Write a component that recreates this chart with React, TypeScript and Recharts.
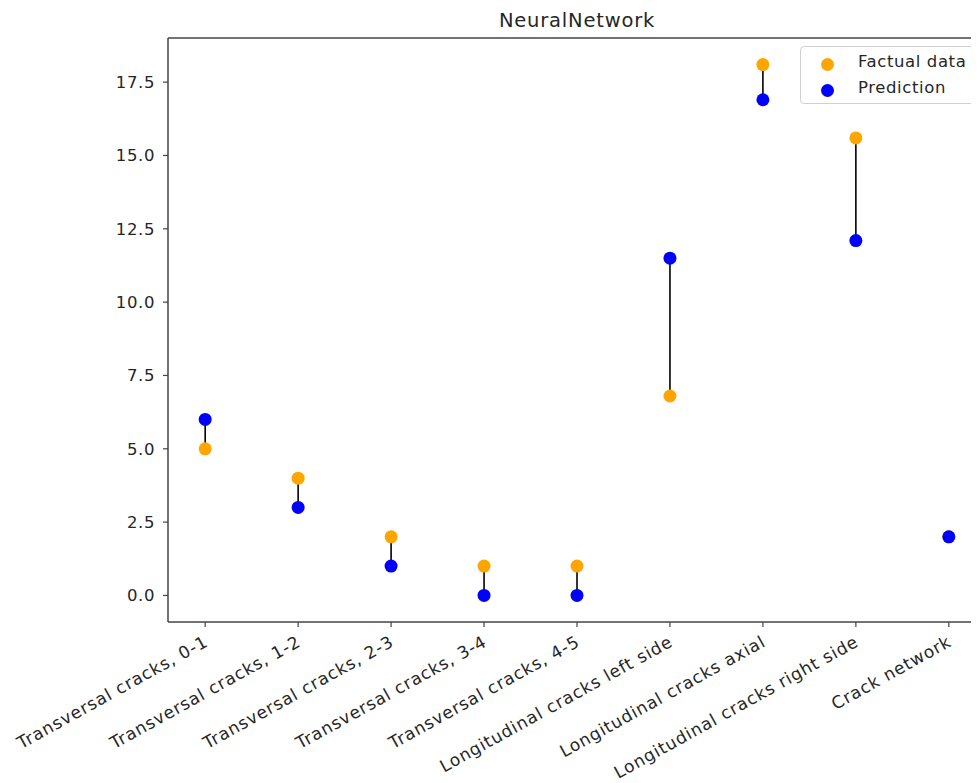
import React from "react";
import { ScatterChart, Scatter, XAxis, YAxis, ErrorBar, ReferenceLine } from "recharts";

const categories = [
  "Transversal cracks, 0-1",
  "Transversal cracks, 1-2",
  "Transversal cracks, 2-3",
  "Transversal cracks, 3-4",
  "Transversal cracks, 4-5",
  "Longitudinal cracks left side",
  "Longitudinal cracks axial",
  "Longitudinal cracks right side",
  "Crack network",
];
const factual = [5, 4, 2, 1, 1, 6.8, 18.1, 15.6, 2];
const prediction = [6, 3, 1, 0, 0, 11.5, 16.9, 12.1, 2];
const yTicks = [0, 2.5, 5, 7.5, 10, 12.5, 15, 17.5];
const seriesNames = ["Factual data", "Prediction"];

const Y_DOMAIN: [number, number] = [-0.905, 19.005];
const X_DOMAIN: [number, number] = [-0.4, 8.4];

const factualData = categories.map((c, i) => {
  const d = prediction[i] - factual[i];
  return { x: i, y: factual[i], err: d >= 0 ? [0, d] : [-d, 0] };
});
const predictionData = categories.map((c, i) => ({ x: i, y: prediction[i] }));

const FONT = "DejaVu Sans, Verdana, sans-serif";
const TEXT = "#262626";
const SPINE = "#444";
const ORANGE = "#FFA500";
const BLUE = "#0000FF";

const xTicks = categories.map((_, i) => i);

const XTick = (props: any) => {
  const { x, y, payload } = props;
  const label = categories[payload.value] ?? "";
  return (
    <g transform={`translate(${x + 1},${y + 11})`}>
      <text
        transform="rotate(-29)"
        textAnchor="end"
        fontSize={17}
        fill={TEXT}
        fontFamily={FONT}
        letterSpacing={0.85}
        dy={6}
      >
        {label}
      </text>
    </g>
  );
};

const YTick = (props: any) => {
  const { x, y, payload } = props;
  return (
    <text
      x={x}
      y={y}
      dy={6}
      textAnchor="end"
      fontSize={16.5}
      fill={TEXT}
      fontFamily={FONT}
      letterSpacing={0.6}
    >
      {Number(payload.value).toFixed(1)}
    </text>
  );
};

const Dot = (color: string) => (props: any) => {
  const { cx, cy } = props;
  if (cx == null || cy == null) return null;
  return <circle cx={cx} cy={cy} r={6.5} fill={color} />;
};

const LegendBox = () => (
  <div
    style={{
      position: "absolute",
      left: 792,
      top: 38,
      width: 200,
      height: 56,
      border: "1px solid #d0d0d0",
      borderRadius: 4,
      background: "rgba(255,255,255,0.85)",
      fontFamily: FONT,
      fontSize: 16.5,
      letterSpacing: 0.6,
      color: TEXT,
    }}
  >
    {[
      { name: seriesNames[0], color: ORANGE, top: 17 },
      { name: seriesNames[1], color: BLUE, top: 43 },
    ].map((e) => (
      <div key={e.name}>
        <div
          style={{
            position: "absolute",
            left: 20,
            top: e.top - 6.5,
            width: 13,
            height: 13,
            borderRadius: "50%",
            background: e.color,
          }}
        />
        <div style={{ position: "absolute", left: 57, top: e.top - 12, lineHeight: "20px" }}>
          {e.name}
        </div>
      </div>
    ))}
  </div>
);

export default function App() {
  return (
    <div style={{ position: "relative", width: 971, height: 775, overflow: "hidden", background: "#fff" }}>
      <div
        style={{
          position: "absolute",
          left: 0,
          width: 1138,
          textAlign: "center",
          top: 1,
          fontFamily: FONT,
          fontSize: 19.5,
          letterSpacing: 0.8,
          color: TEXT,
        }}
      >
        NeuralNetwork
      </div>
      <ScatterChart width={1000} height={790} margin={{ top: 30, right: 22, bottom: 0, left: 0 }}>
        <XAxis
          type="number"
          dataKey="x"
          domain={X_DOMAIN}
          ticks={xTicks}
          allowDataOverflow
          interval={0}
          height={176}
          tick={<XTick />}
          tickSize={5}
          stroke={SPINE}
          strokeWidth={1.5}
          tickLine={{ stroke: SPINE, strokeWidth: 1.2 }}
        />
        <YAxis
          type="number"
          dataKey="y"
          domain={Y_DOMAIN}
          ticks={yTicks}
          allowDataOverflow
          width={160}
          tickSize={5}
          tickMargin={8}
          tick={<YTick />}
          stroke={SPINE}
          strokeWidth={1.5}
          tickLine={{ stroke: SPINE, strokeWidth: 1.2 }}
        />
        <ReferenceLine y={Y_DOMAIN[1]} stroke={SPINE} strokeWidth={1.5} ifOverflow="visible" />
        <ReferenceLine x={X_DOMAIN[1]} stroke={SPINE} strokeWidth={1.5} ifOverflow="visible" />
        <Scatter
          name={seriesNames[0]}
          data={factualData}
          fill={ORANGE}
          shape={Dot(ORANGE)}
          isAnimationActive={false}
        >
          <ErrorBar dataKey="err" direction="y" width={0} stroke="#000" strokeWidth={1.6} />
        </Scatter>
        <Scatter
          name={seriesNames[1]}
          data={predictionData}
          fill={BLUE}
          shape={Dot(BLUE)}
          isAnimationActive={false}
        />
      </ScatterChart>
      <LegendBox />
    </div>
  );
}
